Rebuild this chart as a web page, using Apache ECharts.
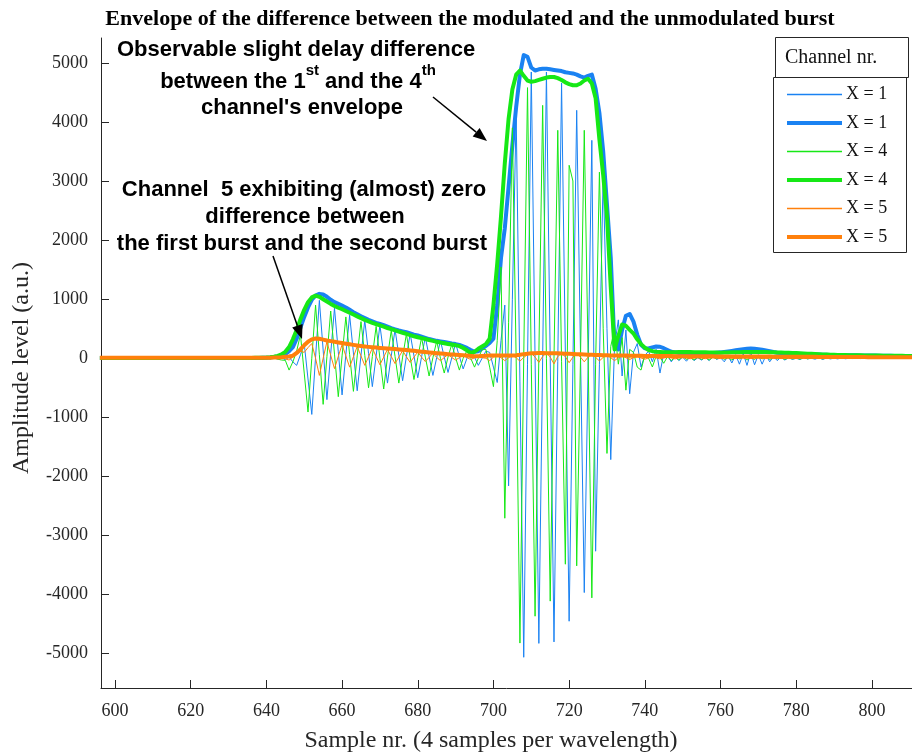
<!DOCTYPE html>
<html>
<head>
<meta charset="utf-8">
<title>Envelope of the difference between the modulated and the unmodulated burst</title>
<script src="https://cdn.jsdelivr.net/npm/echarts@6/dist/echarts.min.js"></script>
<style>
  html, body { margin: 0; padding: 0; background: #ffffff; }
  #chart { width: 912px; height: 753px; }
</style>
</head>
<body>
<div id="chart"></div>
<script>
// Sample index of the first value in every series below (one value per sample).
const firstSample = 596;

// Channel 1: difference signal (thin) and its envelope (thick)
const ch1Signal = [
  0, 2, -3, 1, 0, -2, 3, -1, 0, 2,
  -2, 1, 0, -3, 2, 0, -1, 3, -2, 0,
  1, -2, 3, 0, -3, 2, 0, -1, 2, -2,
  0, 3, -2, 1, 0, -3, 4, -2, 0, 3,
  -4, 2, 0, -5, 6, -8, 5, -12, 10, -25,
  20, -60, -120, 60, 250, -350, -950, 20, 980, 140,
  -700, 80, 850, 110, -620, 60, 730, 90, -550, 50,
  640, 80, -480, 40, 560, 70, -420, 40, 490, 50,
  -380, 30, 420, 40, -330, 20, 360, 30, -290, 10,
  300, 20, -240, 10, 250, 30, -180, 0, 150, 20,
  -120, 0, 120, 100, -150, -410, 300, 900, -2160, 1000,
  4145, -400, -5060, -100, 4845, 0, -4825, 0, 4845, 0,
  -4800, -50, 4658, 100, -4450, -100, 4196, 100, -3965, -200,
  3688, -3265, -100, 3130, 500, -1715, 200, 650, -300, 480,
  -600, 100, 250, -150, 50, 120, -60, 150, -250, 80,
  40, -60, 30, -40, 20, -50, 30, -40, 10, -30,
  20, -40, 30, -20, 10, -60, 40, -80, 60, -100,
  80, -120, 100, -110, 60, -100, 50, -60, 30, -40,
  20, -30, 10, -20, 0, -20, 10, -10, 0, -15,
  10, -20, 5, -10, 0, -10, 5, -8, 0, -5,
  5, -5, 0, -5, 3, -3, 0, -4, 2, -2,
  0, -3, 2, -1, 0, 1
];
const ch1Envelope = [
  5, 5, 5, 5, 5, 5, 5, 5, 5, 5,
  5, 5, 5, 5, 5, 5, 5, 5, 5, 5,
  5, 5, 5, 5, 5, 5, 5, 5, 5, 5,
  5, 5, 5, 5, 5, 5, 5, 5, 5, 5,
  5, 5, 6, 8, 10, 14, 20, 30, 45, 70,
  120, 190, 330, 520, 700, 860, 990, 1060, 1090, 1080,
  1040, 990, 950, 920, 890, 860, 820, 780, 745, 710,
  680, 650, 625, 600, 580, 560, 535, 510, 490, 470,
  455, 440, 420, 400, 385, 365, 345, 325, 310, 295,
  285, 275, 262, 250, 240, 225, 200, 175, 140, 110,
  120, 165, 210, 260, 330, 900, 1700, 2200, 2900, 3600,
  4250, 4800, 5130, 5100, 4920, 4870, 4890, 4900, 4900, 4890,
  4880, 4870, 4860, 4840, 4830, 4820, 4800, 4770, 4750, 4780,
  4800, 4560, 4150, 3500, 2600, 1700, 200, 150, 480, 720,
  750, 620, 400, 230, 170, 165, 185, 200, 195, 170,
  140, 110, 100, 90, 85, 80, 80, 78, 78, 80,
  82, 85, 90, 95, 100, 108, 116, 125, 135, 145,
  155, 162, 165, 162, 155, 145, 132, 118, 105, 95,
  90, 86, 82, 78, 75, 72, 70, 68, 66, 64,
  62, 60, 58, 56, 55, 54, 53, 52, 51, 50,
  50, 49, 48, 47, 46, 45, 44, 43, 42, 41,
  40, 40, 39, 39, 38, 38
];

// Channel 4
const ch4Signal = [
  0, -2, 1, 3, -1, 0, 2, -3, 1, 0,
  2, -1, 0, 3, -2, 1, 0, -2, 3, -1,
  0, 2, -3, 1, 0, -2, 3, 0, -1, 2,
  -3, 0, 2, -1, 3, -2, 0, 4, -3, 1,
  0, -4, 6, -3, 5, -10, 8, -15, -30, -35,
  -200, -60, 120, 400, -250, -910, 0, 900, 60, -780,
  30, 800, 70, -650, 40, 700, 60, -560, 40, 620,
  50, -500, 30, 540, 0, -520, 20, 470, 30, -420,
  20, 410, 20, -360, 10, 350, 20, -300, 10, 290,
  0, -250, 20, 240, 10, -200, 0, 130, 0, -150,
  0, 150, 150, -150, -480, 300, 1545, -2707, 600, 3900,
  0, -4820, 0, 4580, -100, -4365, 50, 4280, 0, -4110,
  0, 3858, -50, -3485, 3266, 3000, -3513, 0, 3858, 100,
  -4055, -100, 3150, 500, -1610, 200, 500, -100, 350, -540,
  150, 100, -150, -200, 50, 0, -147, 40, 20, -85,
  30, -40, 20, -30, 40, -20, 10, -30, 20, -20,
  10, -30, 20, -10, 30, -20, 10, -30, 20, -10,
  20, -30, 10, -20, 30, -10, 20, -20, 10, -10,
  10, -20, 10, -10, 5, -15, 10, -10, 5, -5,
  5, -10, 5, -5, 0, -5, 5, -3, 0, -3,
  3, -2, 0, -3, 2, -1, 0, -2, 1, 0,
  0, -1, 1, 0, -1, 0
];
const ch4Envelope = [
  6, 6, 6, 6, 6, 6, 6, 6, 6, 6,
  6, 6, 6, 6, 6, 6, 6, 6, 6, 6,
  6, 6, 6, 6, 6, 6, 6, 6, 6, 6,
  6, 6, 6, 6, 6, 6, 6, 6, 6, 6,
  6, 7, 8, 10, 13, 18, 25, 40, 65, 110,
  190, 320, 480, 660, 820, 950, 1030, 1060, 1040, 1000,
  960, 920, 885, 855, 830, 800, 770, 740, 710, 680,
  650, 625, 600, 578, 556, 535, 512, 492, 472, 452,
  432, 412, 392, 372, 356, 340, 325, 310, 295, 280,
  266, 254, 243, 233, 222, 205, 175, 135, 90, 110,
  160, 200, 240, 330, 900, 1600, 2400, 3300, 4050, 4550,
  4800, 4870, 4780, 4700, 4680, 4690, 4710, 4730, 4750, 4760,
  4760, 4740, 4710, 4670, 4640, 4620, 4620, 4650, 4700, 4730,
  4650, 4400, 3700, 3100, 2400, 1200, 150, 380, 570, 550,
  480, 420, 320, 240, 180, 140, 120, 110, 105, 100,
  100, 102, 104, 105, 106, 106, 105, 104, 103, 102,
  100, 98, 97, 96, 95, 96, 98, 100, 102, 104,
  106, 107, 108, 108, 107, 106, 105, 103, 101, 99,
  97, 95, 93, 90, 88, 85, 82, 78, 75, 72,
  68, 65, 62, 60, 58, 56, 55, 54, 53, 52,
  51, 50, 49, 48, 47, 46, 45, 44, 43, 42,
  42, 41, 41, 40, 40, 40
];

// Channel 5
const ch5Signal = [
  0, 1, -1, 0, 2, -1, 0, 1, -2, 0,
  1, 0, -1, 2, 0, -1, 1, 0, -2, 1,
  0, -1, 2, 0, -1, 1, 0, -2, 1, 0,
  2, -1, 0, 1, -2, 0, 1, -1, 0, 2,
  -1, 0, 3, -2, 4, -3, 5, -4, 8, -10,
  -30, 20, 60, 120, 100, 180, 250, 0, -290, 0,
  280, 50, -175, 30, 230, 40, -150, 25, 200, 40,
  -120, 25, 170, 30, -110, 20, 150, 30, -90, 20,
  130, 25, -70, 20, 105, 20, -55, 15, 85, 15,
  -40, 12, 65, 12, -30, 10, 50, 10, -20, 8,
  35, 10, 0, -40, 20, 45, 10, -40, 10, 45,
  10, -50, 15, 60, 85, 20, -70, 30, 90, 20,
  -95, 30, 85, 25, -75, 20, 75, 20, -60, 20,
  65, 15, -45, 15, 55, 10, -40, 10, 45, 10,
  -20, 10, 30, 5, -15, 5, 20, 5, -10, 5,
  15, 5, -10, 5, 12, 4, -8, 4, 10, 3,
  -6, 3, 8, 3, -5, 2, 6, 2, -4, 2,
  5, 2, -3, 2, 4, 1, -3, 1, 3, 1,
  -2, 1, 3, 1, -2, 1, 2, 0, -1, 1,
  2, 0, -1, 0, 1, 0, -1, 0, 1, 0,
  -1, 0, 1, 0, -1, 0, 1, 0, 0, 0,
  1, 0, -1, 0, 0, 0
];
const ch5Envelope = [
  8, 8, 8, 8, 8, 8, 8, 8, 8, 8,
  8, 8, 8, 8, 8, 8, 8, 8, 8, 8,
  8, 8, 8, 8, 8, 8, 8, 8, 8, 8,
  8, 8, 8, 8, 8, 8, 8, 8, 8, 8,
  8, 8, 8, 8, 9, 10, 12, 14, 18, 24,
  30, 45, 90, 150, 220, 280, 320, 335, 330, 315,
  300, 290, 280, 268, 257, 247, 237, 227, 217, 208,
  200, 193, 187, 181, 175, 170, 165, 160, 155, 150,
  145, 140, 133, 126, 119, 112, 105, 98, 92, 86,
  80, 75, 70, 65, 60, 55, 50, 45, 40, 36,
  35, 38, 42, 46, 48, 48, 47, 46, 46, 48,
  52, 60, 70, 78, 84, 87, 88, 88, 87, 86,
  85, 83, 81, 78, 75, 72, 69, 66, 63, 60,
  58, 56, 54, 52, 50, 49, 48, 47, 46, 45,
  44, 43, 42, 41, 40, 40, 39, 39, 38, 38,
  37, 37, 36, 36, 35, 35, 35, 34, 34, 34,
  33, 33, 33, 32, 32, 32, 31, 31, 31, 30,
  30, 30, 29, 29, 29, 28, 28, 28, 27, 27,
  27, 26, 26, 26, 25, 25, 25, 24, 24, 24,
  23, 23, 23, 22, 22, 22, 21, 21, 21, 20,
  20, 20, 20, 19, 19, 19, 18, 18, 18, 18,
  17, 17, 17, 17, 16, 16
];

// Axis ticks
const xTicks = [600, 620, 640, 660, 680, 700, 720, 740, 760, 780, 800];
const yTicks = [-5000, -4000, -3000, -2000, -1000, 0, 1000, 2000, 3000, 4000, 5000];

// Legend entries, in drawing order
const legendLabels = ['X = 1', 'X = 1', 'X = 4', 'X = 4', 'X = 5', 'X = 5'];

const BLUE = '#1a82f2';
const GREEN = '#16e816';
const ORANGE = '#ff800c';
const SERIF = '"Liberation Serif", "Times New Roman", serif';
const SANS = '"Liberation Sans", Arial, sans-serif';

function toPoints(values) {
  return values.map(function (v, i) { return [firstSample + i, v]; });
}

const seriesDefs = [
  { values: ch1Signal,   color: BLUE,   width: 1 },
  { values: ch1Envelope, color: BLUE,   width: 4 },
  { values: ch4Signal,   color: GREEN,  width: 1 },
  { values: ch4Envelope, color: GREEN,  width: 4 },
  { values: ch5Signal,   color: ORANGE, width: 1 },
  { values: ch5Envelope, color: ORANGE, width: 4 }
];

const chart = echarts.init(document.getElementById('chart'), null, { renderer: 'canvas' });

// Hand-built legend box
const legendGraphics = [
  { type: 'rect', shape: { x: 773.5, y: 77.5, width: 133, height: 175 },
    style: { fill: '#ffffff', stroke: '#262626', lineWidth: 1 }, z: 100 },
  { type: 'rect', shape: { x: 775.5, y: 37.5, width: 133, height: 40 },
    style: { fill: '#ffffff', stroke: '#262626', lineWidth: 1 }, z: 101 },
  { type: 'text', x: 785, y: 58, z: 102,
    style: { text: 'Channel nr.', fill: '#111', font: '20px ' + SERIF,
             textAlign: 'left', textVerticalAlign: 'middle' } }
];
seriesDefs.forEach(function (d, i) {
  const yy = Math.round(94 + 28.5 * i) + (d.width > 1 ? 0 : 0.5);
  legendGraphics.push({ type: 'line', z: 102,
    shape: { x1: 787, y1: yy, x2: 842, y2: yy },
    style: { stroke: d.color, lineWidth: d.width > 1 ? d.width : 1.5 } });
  legendGraphics.push({ type: 'text', x: 846, y: yy, z: 102,
    style: { text: legendLabels[i], fill: '#111', font: '18px ' + SERIF,
             textAlign: 'left', textVerticalAlign: 'middle' } });
});

function arrow(x1, y1, x2, y2) {
  const ang = Math.atan2(y2 - y1, x2 - x1);
  const len = 14, half = 5.5;
  const bx = x2 - len * Math.cos(ang), by = y2 - len * Math.sin(ang);
  const px = -Math.sin(ang) * half, py = Math.cos(ang) * half;
  return [
    { type: 'line', z: 90, shape: { x1: x1, y1: y1, x2: bx, y2: by },
      style: { stroke: '#000', lineWidth: 1.5 } },
    { type: 'polygon', z: 90,
      shape: { points: [[x2, y2], [bx + px, by + py], [bx - px, by - py]] },
      style: { fill: '#000' } }
  ];
}

function note(text, x, y) {
  return { type: 'text', x: x, y: y, z: 95,
    style: { text: text, fill: '#000', font: 'bold 22px ' + SANS,
             textAlign: 'center', textVerticalAlign: 'middle' } };
}

const graphics = [
  { type: 'text', x: 470, y: 19, z: 95,
    style: { text: 'Envelope of the difference between the modulated and the unmodulated burst',
             fill: '#000', font: 'bold 22px ' + SERIF, textAlign: 'center', textVerticalAlign: 'middle' } },
  { type: 'text', x: 491, y: 741, z: 95,
    style: { text: 'Sample nr. (4 samples per wavelength)', fill: '#262626', font: '24px ' + SERIF,
             textAlign: 'center', textVerticalAlign: 'middle' } },
  { type: 'text', x: 22, y: 368, rotation: Math.PI / 2, z: 95,
    style: { text: 'Amplitude level (a.u.)', fill: '#262626', font: '24px ' + SERIF,
             textAlign: 'center', textVerticalAlign: 'middle' } },
  note('Observable slight delay difference', 296, 50),
  { type: 'text', x: 298, y: 78, z: 95,
    style: {
      text: '{n|between the 1}{s|st}{n| and the 4}{s|th}',
      textAlign: 'center', textVerticalAlign: 'middle',
      rich: {
        n: { fontFamily: SANS, fontWeight: 'bold', fontSize: 22, fill: '#000', lineHeight: 30, verticalAlign: 'bottom' },
        s: { fontFamily: SANS, fontWeight: 'bold', fontSize: 15, fill: '#000', lineHeight: 30, verticalAlign: 'top' }
      }
    } },
  note("channel's envelope", 302, 108),
  note('Channel  5 exhibiting (almost) zero', 304, 190),
  note('difference between', 305, 217),
  note('the first burst and the second burst', 302, 244)
].concat(arrow(433, 97, 487, 141), arrow(273, 256, 302, 339), legendGraphics);

const option = {
  animation: false,
  backgroundColor: '#ffffff',
  grid: { left: 101, right: 0, top: 38, bottom: 65, containLabel: false },
  xAxis: {
    type: 'value',
    min: 596.3,
    max: 810.6,
    axisLine: { show: true, onZero: false, lineStyle: { color: '#262626', width: 1 } },
    axisTick: { show: true, inside: true, length: 8, customValues: xTicks,
                lineStyle: { color: '#262626', width: 1 } },
    axisLabel: { customValues: xTicks, margin: 14, color: '#262626',
                 fontFamily: SERIF, fontSize: 18, formatter: function (v) { return String(v); } },
    splitLine: { show: false }
  },
  yAxis: {
    type: 'value',
    min: -5580,
    max: 5420,
    axisLine: { show: true, onZero: false, lineStyle: { color: '#262626', width: 1 } },
    axisTick: { show: true, inside: true, length: 8, customValues: yTicks,
                lineStyle: { color: '#262626', width: 1 } },
    axisLabel: { customValues: yTicks, margin: 13, color: '#262626',
                 fontFamily: SERIF, fontSize: 18, formatter: function (v) { return String(v); } },
    splitLine: { show: false }
  },
  series: seriesDefs.map(function (d, i) {
    return {
      type: 'line',
      name: legendLabels[i] + (d.width > 1 ? ' envelope' : ' signal'),
      data: toPoints(d.values),
      showSymbol: false,
      symbol: 'none',
      silent: true,
      clip: true,
      z: 2,
      lineStyle: { color: d.color, width: d.width, join: 'round' },
      itemStyle: { color: d.color }
    };
  }),
  graphic: graphics
};

chart.setOption(option);
</script>
</body>
</html>
